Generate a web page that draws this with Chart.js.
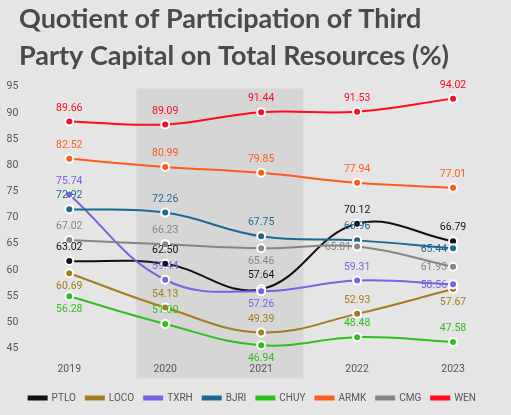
<!DOCTYPE html>
<html>
<head>
<meta charset="utf-8">
<script src="https://cdn.jsdelivr.net/npm/chart.js@4.4.1/dist/chart.umd.min.js"></script>
<style>
  html, body { margin: 0; padding: 0; background: #e5e5e5; }
  #wrap { width: 511px; height: 415px; }
</style>
</head>
<body>
<div id="wrap"><canvas id="myChart" width="511" height="415"></canvas></div>
<script>
// datos
const years = ['2019', '2020', '2021', '2022', '2023'];
const yTicks = [45, 50, 55, 60, 65, 70, 75, 80, 85, 90, 95];
const titulo = ['Quotient of Participation of Third', 'Party Capital on Total Resources (%)'];

const ptlo = [63.02, 62.50, 57.64, 70.12, 66.79];
const loco = [60.69, 54.13, 49.39, 52.93, 57.67];
const txrh = [75.74, 59.44, 57.26, 59.31, 58.56];
const bjri = [72.92, 72.26, 67.75, 66.96, 65.44];
const chuy = [56.28, 51.00, 46.94, 48.48, 47.58];
const armk = [82.52, 80.99, 79.85, 77.94, 77.01];
const cmg  = [67.02, 66.23, 65.46, 65.81, 61.93];
const wen  = [89.66, 89.09, 91.44, 91.53, 94.02];

// where each value label goes: t = above, b = below, l = left
const series = [
    { name: 'PTLO', data: ptlo, color: '#111111', pos: ['t', 't', 't', 't', 't'] },
    { name: 'LOCO', data: loco, color: '#a57c1b', pos: ['b', 't', 't', 't', 'b'] },
    { name: 'TXRH', data: txrh, color: '#7b61e0', pos: ['t', 't', 'b', 't', 'l'] },
    { name: 'BJRI', data: bjri, color: '#1c6890', pos: ['t', 't', 't', 't', 'l'] },
    { name: 'CHUY', data: chuy, color: '#2fbf1c', pos: ['b', 't', 'b', 't', 't'] },
    { name: 'ARMK', data: armk, color: '#ff5a1e', pos: ['t', 't', 't', 't', 't'] },
    { name: 'CMG',  data: cmg,  color: '#858585', pos: ['t', 't', 'b', 'l', 'l'] },
    { name: 'WEN',  data: wen,  color: '#ff0a1e', pos: ['t', 't', 't', 't', 't'] }
];

const datasets = series.map((s, i) => ({
    label: s.name,
    data: s.data,
    borderColor: s.color,
    backgroundColor: s.color,
    borderWidth: 2,
    pointRadius: 4,
    pointBorderWidth: 2,
    pointBorderColor: '#ffffff',
    pointBackgroundColor: s.color,
    tension: 0.4,
    order: series.length - i
}));

/* fondo, titulo y zona sombreada 2020-2021 */
const fondo = {
    id: 'fondo',
    beforeDraw(chart) {
        const { ctx, chartArea, scales } = chart;
        ctx.save();
        ctx.fillStyle = '#e5e5e5';
        ctx.fillRect(0, 0, chart.width, chart.height);

        ctx.fillStyle = '#4a4a4a';
        ctx.font = 'bold 27px Lato';
        ctx.textAlign = 'left';
        ctx.textBaseline = 'alphabetic';
        titulo.forEach((t, i) => ctx.fillText(t, 19, 28 + i * 37));

        const step = scales.x.getPixelForValue(1) - scales.x.getPixelForValue(0);
        const x1 = scales.x.getPixelForValue(1) - 0.3 * step;
        const x2 = scales.x.getPixelForValue(2) + 0.44 * step;
        ctx.fillStyle = '#d6d6d6';
        ctx.fillRect(x1, chartArea.top - 5, x2 - x1, chartArea.bottom - chartArea.top + 28);
        ctx.restore();
    }
};

/* etiquetas de valores */
const etiquetas = {
    id: 'etiquetas',
    afterDatasetsDraw(chart) {
        const ctx = chart.ctx;
        ctx.save();
        ctx.font = '10.5px Roboto';
        chart.data.datasets.forEach((ds, i) => {
            const meta = chart.getDatasetMeta(i);
            meta.data.forEach((pt, j) => {
                const txt = ds.data[j].toFixed(2);
                const p = series[i].pos[j];
                ctx.fillStyle = series[i].color;
                ctx.textBaseline = 'middle';
                if (p === 'l') {
                    ctx.textAlign = 'right';
                    ctx.fillText(txt, pt.x - 6, pt.y + 1);
                } else {
                    ctx.textAlign = 'center';
                    ctx.fillText(txt, pt.x, p === 't' ? pt.y - 13.5 : pt.y + 13.5);
                }
            });
        });
        ctx.restore();
    }
};

const ctx = document.getElementById('myChart').getContext('2d');
const myChart = new Chart(ctx, {
    type: 'line',
    data: { labels: years, datasets: datasets },
    plugins: [fondo, etiquetas],
    options: {
        responsive: false,
        animation: false,
        layout: { padding: { left: 3.5, right: 10, top: 93.5, bottom: 2 } },
        plugins: {
            tooltip: { enabled: false },
            title: { display: false },
            legend: {
                position: 'bottom',
                labels: {
                    boxWidth: 18,
                    boxHeight: 3,
                    padding: 10,
                    color: '#555555',
                    font: { family: 'Roboto', size: 10 },
                    sort: (a, b) => a.datasetIndex - b.datasetIndex
                }
            }
        },
        scales: {
            x: {
                offset: true,
                grid: { display: false, drawTicks: false },
                border: { display: false },
                ticks: { color: '#555555', font: { family: 'Roboto', size: 10.5 }, padding: 7.5 }
            },
            y: {
                min: 45,
                max: 95,
                afterBuildTicks: s => { s.ticks = yTicks.map(v => ({ value: v })); },
                grid: { display: false, drawTicks: false },
                border: { display: false },
                ticks: { color: '#555555', font: { family: 'Roboto', size: 10.5 }, padding: 3, labelOffset: -6.8 }
            }
        }
    }
});
</script>
</body>
</html>
